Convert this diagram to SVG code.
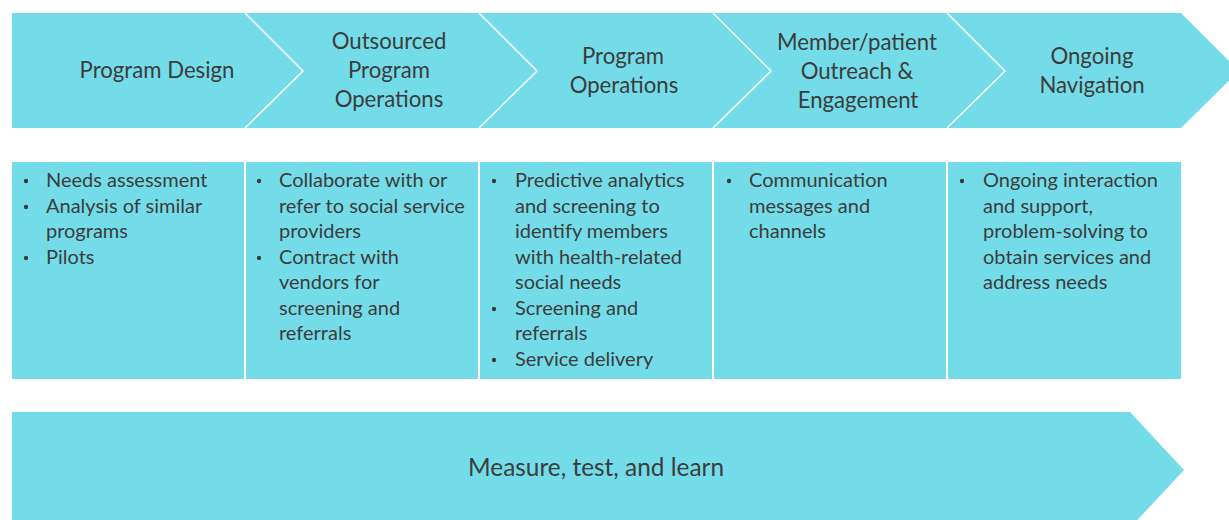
<svg xmlns="http://www.w3.org/2000/svg" width="1229" height="520" viewBox="0 0 1229 520">
  <style>
    .shape { fill: #73dce8; }
    .sep { fill: none; stroke: #ffffff; stroke-width: 1.5; }
    .head { font-family: Lato, "Open Sans", sans-serif; font-size: 22.2px; fill: #3c3c3c; text-anchor: middle; }
    .item { font-family: Lato, "Open Sans", sans-serif; font-size: 20px; fill: #3c3c3c; }
    .dot { fill: #3c3c3c; }
    .foot { font-family: Lato, "Open Sans", sans-serif; font-size: 24.4px; fill: #3c3c3c; text-anchor: middle; }
  </style>

  <!-- stage chevrons -->
  <g id="stage-design">
    <polygon class="shape" points="12,13 245,13 303,71 245,128 12,128"/>
    <text class="head" x="157" y="78">Program Design</text>
  </g>
  <g id="stage-outsourced">
    <polygon class="shape" points="245,13 479,13 537,71 479,128 245,128 303,71"/>
    <text class="head" x="389" y="49">Outsourced</text>
    <text class="head" x="389" y="78">Program</text>
    <text class="head" x="389" y="107">Operations</text>
  </g>
  <g id="stage-operations">
    <polygon class="shape" points="479,13 713,13 771,71 713,128 479,128 537,71"/>
    <text class="head" x="623" y="64">Program</text>
    <text class="head" x="624" y="93">Operations</text>
  </g>
  <g id="stage-outreach">
    <polygon class="shape" points="713,13 947,13 1005,71 947,128 713,128 771,71"/>
    <text class="head" x="857" y="50">Member/patient</text>
    <text class="head" x="857" y="79">Outreach &amp;</text>
    <text class="head" x="858" y="108">Engagement</text>
  </g>
  <g id="stage-navigation">
    <polygon class="shape" points="947,13 1181,13 1239,71 1181,128 947,128 1005,71"/>
    <text class="head" x="1092" y="64">Ongoing</text>
    <text class="head" x="1092" y="93">Navigation</text>
  </g>

  <!-- white dividers between chevrons -->
  <g id="connectors">
    <polyline class="sep" points="245,13 303,71 245,128"/>
    <polyline class="sep" points="479,13 537,71 479,128"/>
    <polyline class="sep" points="713,13 771,71 713,128"/>
    <polyline class="sep" points="947,13 1005,71 947,128"/>
  </g>

  <!-- detail columns -->
  <g id="detail-design">
    <rect class="shape" x="12" y="162" width="232" height="217"/>
    <circle class="dot" cx="26" cy="181" r="2.2"/>
    <circle class="dot" cx="26" cy="207" r="2.2"/>
    <circle class="dot" cx="26" cy="258" r="2.2"/>
    <text class="item" x="46" y="187">Needs assessment</text>
    <text class="item" x="46" y="213">Analysis of similar</text>
    <text class="item" x="46" y="238">programs</text>
    <text class="item" x="46" y="264">Pilots</text>
  </g>
  <g id="detail-outsourced">
    <rect class="shape" x="246" y="162" width="232" height="217"/>
    <circle class="dot" cx="259" cy="181" r="2.2"/>
    <circle class="dot" cx="259" cy="258" r="2.2"/>
    <text class="item" x="279" y="187">Collaborate with or</text>
    <text class="item" x="279" y="213">refer to social service</text>
    <text class="item" x="279" y="238">providers</text>
    <text class="item" x="279" y="264">Contract with</text>
    <text class="item" x="279" y="289">vendors for</text>
    <text class="item" x="279" y="315">screening and</text>
    <text class="item" x="279" y="340">referrals</text>
  </g>
  <g id="detail-operations">
    <rect class="shape" x="480" y="162" width="232" height="217"/>
    <circle class="dot" cx="494" cy="181" r="2.2"/>
    <circle class="dot" cx="494" cy="309" r="2.2"/>
    <circle class="dot" cx="494" cy="360" r="2.2"/>
    <text class="item" x="515" y="187">Predictive analytics</text>
    <text class="item" x="515" y="213">and screening to</text>
    <text class="item" x="515" y="238">identify members</text>
    <text class="item" x="515" y="264">with health-related</text>
    <text class="item" x="515" y="289">social needs</text>
    <text class="item" x="515" y="315">Screening and</text>
    <text class="item" x="515" y="340">referrals</text>
    <text class="item" x="515" y="366">Service delivery</text>
  </g>
  <g id="detail-outreach">
    <rect class="shape" x="714" y="162" width="232" height="217"/>
    <circle class="dot" cx="729" cy="181" r="2.2"/>
    <text class="item" x="749" y="187">Communication</text>
    <text class="item" x="749" y="213">messages and</text>
    <text class="item" x="749" y="238">channels</text>
  </g>
  <g id="detail-navigation">
    <rect class="shape" x="948" y="162" width="233" height="217"/>
    <circle class="dot" cx="962" cy="181" r="2.2"/>
    <text class="item" x="983" y="187">Ongoing interaction</text>
    <text class="item" x="983" y="213">and support,</text>
    <text class="item" x="983" y="238">problem-solving to</text>
    <text class="item" x="983" y="264">obtain services and</text>
    <text class="item" x="983" y="289">address needs</text>
  </g>

  <!-- continuous improvement band -->
  <g id="band-measure">
    <polygon class="shape" points="12,412 1130,412 1184,470 1130,528 12,528"/>
    <text class="foot" x="596" y="476">Measure, test, and learn</text>
  </g>
</svg>
